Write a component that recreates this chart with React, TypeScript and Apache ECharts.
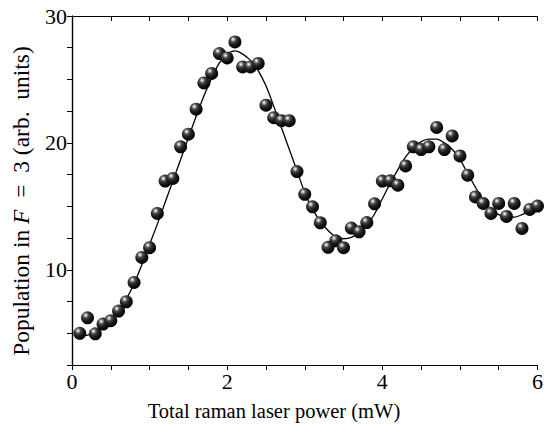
import React, { useEffect, useRef } from "react";
import * as echarts from "echarts";

const pointX = [0.1,0.2,0.3,0.4,0.5,0.6,0.7,0.8,0.9,1.0,1.1,1.2,1.3,1.4,1.5,1.6,1.7,1.8,1.9,2.0,2.1,2.2,2.3,2.4,2.5,2.6,2.7,2.8,2.9,3.0,3.1,3.2,3.3,3.4,3.5,3.6,3.7,3.8,3.9,4.0,4.1,4.2,4.3,4.4,4.5,4.6,4.7,4.8,4.9,5.0,5.1,5.2,5.3,5.4,5.5,5.6,5.7,5.8,5.9,6.0];
const pointY = [5.0,6.22,4.96,5.73,5.99,6.75,7.48,9.01,10.98,11.74,14.44,16.99,17.2,19.69,20.69,22.66,24.73,25.47,27.04,26.7,27.96,25.99,25.99,26.26,22.97,21.99,21.75,21.75,17.74,15.95,14.96,13.7,11.77,12.29,11.74,13.29,12.99,13.72,15.2,16.99,17.01,16.67,18.19,19.69,19.48,19.69,21.22,19.48,20.55,18.97,17.46,15.74,15.23,14.44,15.23,14.21,15.23,13.26,14.76,15.02];

const fitX = [0.1,0.2,0.3,0.4,0.5,0.6,0.7,0.8,0.9,1.0,1.1,1.2,1.3,1.4,1.5,1.6,1.7,1.8,1.9,2.0,2.1,2.2,2.3,2.4,2.5,2.6,2.7,2.8,2.9,3.0,3.1,3.2,3.3,3.4,3.5,3.6,3.7,3.8,3.9,4.0,4.1,4.2,4.3,4.4,4.5,4.6,4.7,4.8,4.9,5.0,5.1,5.2,5.3,5.4,5.5,5.6,5.7,5.8,5.9,6.0];
const fitY = [4.8,4.85,5.2,5.6,6.1,6.8,7.7,8.9,10.4,12.0,13.6,15.3,17.0,18.7,20.4,22.1,23.7,25.1,26.3,27.0,27.25,27.0,26.5,25.7,24.5,22.9,21.2,19.5,17.8,16.1,14.8,13.8,13.1,12.6,12.45,12.55,12.9,13.5,14.4,15.6,16.8,17.9,18.9,19.6,20.1,20.3,20.3,20.0,19.5,18.7,17.6,16.5,15.5,14.8,14.35,14.15,14.15,14.35,14.65,15.0];

const xLabels = [0, 2, 4, 6];
const yLabels = [10, 20, 30];

const xTitle = "Total raman laser power (mW)";
const yTitle = "Population in {i|F}  =  3 (arb.  units)";

const FONT = "'Liberation Serif', 'DejaVu Serif', serif";

export default function App() {
  const ref = useRef<HTMLDivElement>(null);
  useEffect(() => {
    if (!ref.current) return;
    const chart = echarts.init(ref.current, undefined, { renderer: "svg" });
    const sphere = new echarts.graphic.RadialGradient(0.36, 0.3, 0.72, [
      { offset: 0, color: "#ffffff" },
      { offset: 0.1, color: "#c8c8c8" },
      { offset: 0.3, color: "#4a4a4a" },
      { offset: 0.6, color: "#1a1a1a" },
      { offset: 1, color: "#000000" },
    ]);
    const axisLine = { show: true, lineStyle: { color: "#000", width: 1.2 } };
    const labelStyle = { color: "#000", fontFamily: FONT, fontSize: 22 };
    chart.setOption({
      animation: false,
      backgroundColor: "#fff",
      grid: { left: 72, right: 6, top: 16, bottom: 59, containLabel: false },
      xAxis: [
        {
          type: "value", min: 0, max: 6, interval: 0.5,
          axisLine, splitLine: { show: false },
          axisTick: { show: true, inside: false, length: 5, lineStyle: { color: "#000" } },
          axisLabel: {
            ...labelStyle, margin: 5,
            formatter: (v: number) => (xLabels.includes(Math.round(v * 100) / 100) ? String(v) : ""),
          },
        },
        {
          type: "value", position: "top", min: 0, max: 6, interval: 0.5,
          axisLine, splitLine: { show: false },
          axisTick: { show: true, inside: true, length: 5, lineStyle: { color: "#000" } },
          axisLabel: { show: false },
        },
      ],
      yAxis: [
        {
          type: "value", min: 2.5, max: 30, interval: 2.5,
          axisLine, splitLine: { show: false },
          axisTick: { show: true, inside: false, length: 5, lineStyle: { color: "#000" } },
          axisLabel: {
            ...labelStyle, margin: 5,
            formatter: (v: number) => (yLabels.includes(Math.round(v * 100) / 100) ? String(v) : ""),
          },
        },
        {
          type: "value", position: "right", min: 2.5, max: 30, interval: 2.5,
          axisLine, splitLine: { show: false },
          axisTick: { show: true, inside: true, length: 5, lineStyle: { color: "#000" } },
          axisLabel: { show: false },
        },
      ],
      graphic: [
        {
          type: "text", x: 274, y: 411,
          style: { text: xTitle, fill: "#000", font: `20.5px ${FONT}`, align: "center", verticalAlign: "middle" },
        },
        {
          type: "text", x: 21, y: 201, rotation: Math.PI / 2,
          style: {
            text: yTitle, fill: "#000", fontFamily: FONT, fontSize: 23.5,
            align: "center", verticalAlign: "middle",
            rich: { i: { fontStyle: "italic", fontFamily: FONT, fontSize: 23.5, fill: "#000" } },
          },
        },
      ],
      series: [
        {
          type: "line",
          data: fitX.map((x, i) => [x, fitY[i]]),
          smooth: 0.3,
          showSymbol: false,
          lineStyle: { color: "#000", width: 1.3 },
          z: 2,
        },
        {
          type: "scatter",
          data: pointX.map((x, i) => [x, pointY[i]]),
          symbolSize: 13,
          itemStyle: { color: sphere, opacity: 1 },
          z: 3,
        },
      ],
    });
    return () => chart.dispose();
  }, []);
  return <div ref={ref} style={{ width: 546, height: 424, position: "absolute", left: 0, top: 0 }} />;
}
